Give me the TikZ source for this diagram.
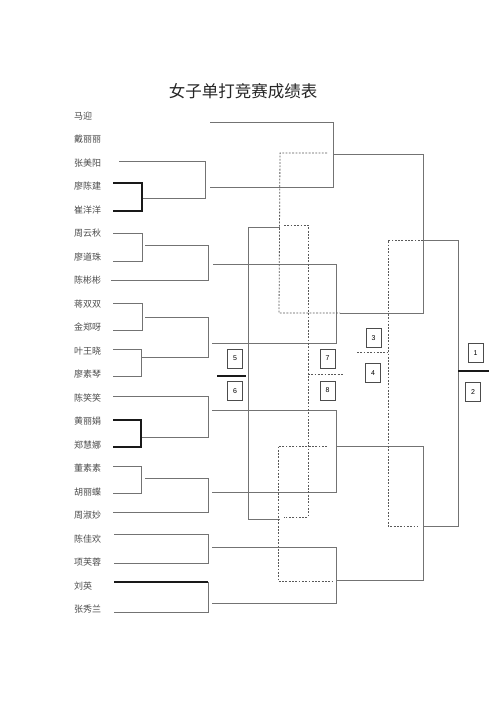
\documentclass[tikz,border=0pt]{standalone}
\usepackage{fontspec}
\newfontfamily\cjk{Noto Sans CJK SC}
\newfontfamily\numfont{Liberation Sans}
\tikzset{
  ln/.style={draw=black!55, line width=0.8pt},
  thk/.style={draw=black!90, line width=1.1pt},
  dsh/.style={draw=black!65, line width=0.8pt, dash pattern=on 1.8pt off 1.5pt},
  numbox/.style={draw=black!70, line width=0.7pt, minimum width=15pt, minimum height=19pt, inner sep=0pt, font=\numfont\fontsize{7}{8}\selectfont},
  pname/.style={anchor=west, inner sep=0pt, font=\cjk\fontsize{9}{10}\selectfont, text=black!70},
}
\begin{document}
\begin{tikzpicture}[x=1pt,y=-1pt]
\useasboundingbox[fill=white] (0,0) rectangle (500,707);
\node[font=\cjk\fontsize{16.5}{18}\selectfont, text=black!85] (title) at (243,91) {女子单打竞赛成绩表};
% names
\foreach \n [count=\i from 0] in {马迎,戴丽丽,张美阳,廖陈建,崔洋洋,周云秋,廖道珠,陈彬彬,蒋双双,金郑呀,叶王晓,廖素琴,陈笑笑,黄丽娟,郑慧娜,董素素,胡丽蝶,周淑妙,陈佳欢,项芙蓉,刘英,张秀兰}
  \node[pname] (p\i) at (74,{116+23.5*\i}) {\n};
% first round brackets
\draw[thk] (113,183) -| (142,211) -- (113,211);
\draw[ln] (119,161) -| (205,198) -- (143,198);
\draw[ln] (113,233) -| (142,261) -- (113,261);
\draw[ln] (145,245) -| (208,280) -- (111,280);
\draw[ln] (113,303) -| (142,330) -- (113,330);
\draw[ln] (113,349) -| (141,376) -- (113,376);
\draw[ln] (145,317) -| (208,357) -- (141,357);
\draw[ln] (113,396) -| (208,437) -- (141,437);
\draw[thk] (113,420) -| (141,447) -- (113,447);
\draw[ln] (113,466) -| (141,493) -- (113,493);
\draw[ln] (145,478) -| (208,512) -- (113,512);
\draw[ln] (114,534) -| (208,563) -- (114,563);
\draw[ln] (114,612) -| (208,582);
\draw[thk] (114,582) -- (208,582);
% second round
\draw[ln] (210,122) -| (333,187) -- (210,187);
\draw[ln] (213,264) -| (336,343) -- (212,343);
\draw[ln] (212,410) -| (336,492) -- (212,492);
\draw[ln] (212,547) -| (336,603) -- (212,603);
% third round
\draw[ln] (333,154) -| (423,313) -- (340,313);
\draw[ln] (336,446) -| (423,580) -- (336,580);
% semifinal / final
\draw[ln] (423,240) -| (458,526) -- (423,526);
\draw[thk] (458,371) -- (489,371);
% 5-6 bracket
\draw[ln] (280,227) -- (248,227) -- (248,519) -- (280,519);
\draw[thk] (217,376) -- (246,376);
% dashed losers paths
\draw[dsh] (327,153) -- (280,153) -- (279,313) -- (340,313);
\draw[dsh] (284,225) -- (308,225) -- (308,517) -- (284,517);
\draw[dsh] (308,374) -- (343,374);
\draw[dsh] (327,446) -- (278,446) -- (278,581) -- (333,581);
\draw[dsh] (357,352) -- (387,352);
\draw[dsh] (423,240) -- (388,240) -- (388,526) -- (418,526);
% place boxes
\node[numbox] (b1) at (475.5,353) {1};
\node[numbox] (b2) at (473,392) {2};
\node[numbox] (b3) at (373.5,338) {3};
\node[numbox] (b4) at (373,373) {4};
\node[numbox] (b5) at (235,358.5) {5};
\node[numbox] (b6) at (235,391) {6};
\node[numbox] (b7) at (327.5,358.5) {7};
\node[numbox] (b8) at (327.5,390.5) {8};
\end{tikzpicture}
\end{document}
